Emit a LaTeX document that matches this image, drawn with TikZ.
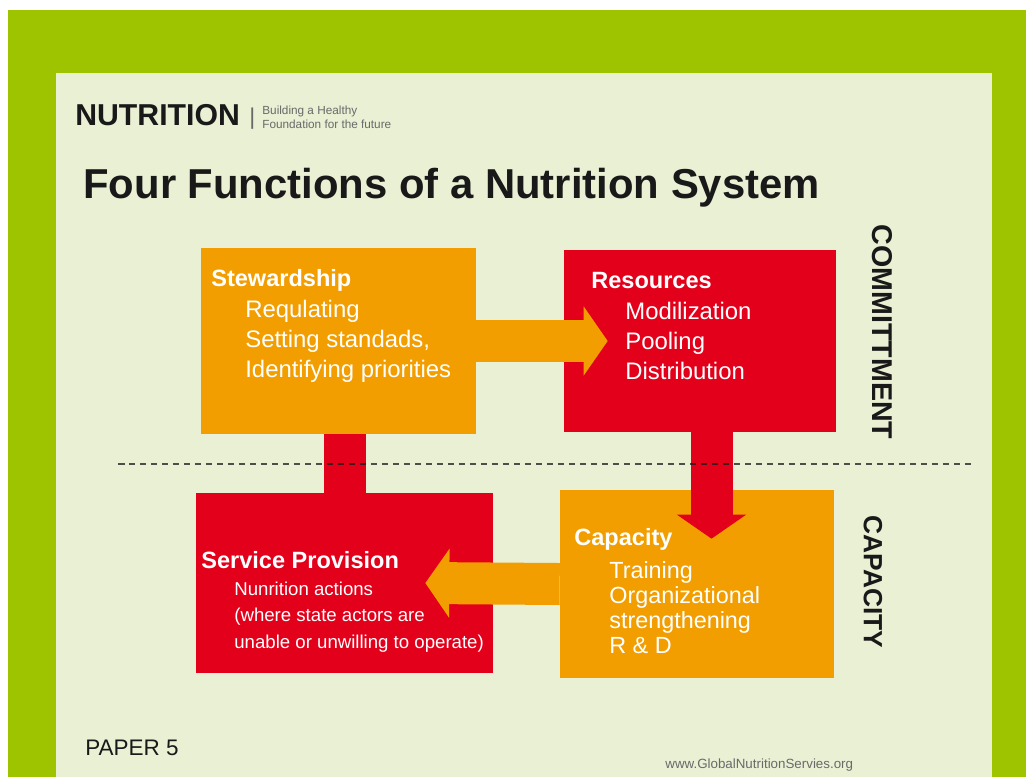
\documentclass[tikz,border=0pt]{standalone}
\usepackage{fontspec}
\setmainfont{Liberation Sans}
\usetikzlibrary{positioning,calc,arrows.meta}
\definecolor{leaf}{RGB}{158,196,0}
\definecolor{paper}{RGB}{233,240,212}
\definecolor{amber}{RGB}{242,158,0}
\definecolor{signal}{RGB}{227,0,27}
\definecolor{ink}{RGB}{25,25,25}
\definecolor{mist}{RGB}{105,105,105}
\tikzset{
  fn/.style={rectangle,inner sep=0pt,draw=none},
  fnhead/.style={anchor=base west,inner sep=0pt,text=white,font=\fontsize{13.4}{16}\selectfont\bfseries},
  fnitems/.style={anchor=base west,inner sep=0pt,text=white,align=left},
  flow/.style={line width=0.84cm,-{Triangle[width=1.36cm,length=0.48cm]}},
}
\begin{document}
\begin{tikzpicture}[x=0.02cm,y=-0.02cm]
    \useasboundingbox (0,0) rectangle (1026,777);
    \fill[white] (0,0) rectangle (1026,777);
    \fill[leaf] (8,10) rectangle (1026,777);
    \fill[paper] (56,73) rectangle (992,777);

    \node[anchor=base west,inner sep=0,text=ink,font=\fontsize{17.2}{20}\selectfont\bfseries] (brand) at (75,125) {NUTRITION} ;
    \node[anchor=base west,inner sep=0,text=mist,font=\fontsize{13}{15}\selectfont] (pipe) at (249,124) {|} ;
    \node[anchor=base west,inner sep=0,text=mist,align=left,font=\fontsize{6.7}{7.5}\selectfont] (motto) at (262,128) {Building a Healthy\\Foundation for the future} ;
    \node[anchor=base west,inner sep=0,text=ink,font=\fontsize{23.8}{28}\selectfont\bfseries] (title) at (83,198) {Four Functions of a Nutrition System} ;

    \node[fn,fill=amber,minimum width=5.5cm,minimum height=3.72cm] (stew) at (338.5,341) {} ;
    \node[fn,fill=signal,minimum width=5.44cm,minimum height=3.64cm] (res) at (700,341) {} ;
    \node[fn,fill=signal,minimum width=5.94cm,minimum height=3.6cm] (serv) at (344.5,583) {} ;
    \node[fn,fill=amber,minimum width=5.48cm,minimum height=3.76cm] (cap) at (697,584) {} ;

    \draw[flow,amber] (stew.east) -- ($(res.west)+(44,0)$) ;
    \draw[signal,line width=0.84cm] (stew.south -| serv.north) -- (serv.north) ;
    \draw[flow,signal] ($(res.south)+(11.5,0)$) -- ($(cap.north)+(14.5,49)$) ;
    \draw[flow,amber] (cap.west) -- ($(serv.east)+(-68,0)$) ;

    \node[fnhead] (stew_head) at (211,286) {Stewardship} ;
    \node[fnitems,font=\fontsize{13.6}{17}\selectfont] (stew_items) at (245,377) {Requlating\\Setting standads,\\Identifying priorities} ;
    \node[fnhead] (res_head) at (591,288) {Resources} ;
    \node[fnitems,font=\fontsize{13.6}{17}\selectfont] (res_items) at (625,379) {Modilization\\Pooling\\Distribution} ;
    \node[fnhead] (serv_head) at (201,568) {Service Provision} ;
    \node[fnitems,font=\fontsize{10.6}{15}\selectfont] (serv_items) at (234,648) {Nunrition actions\\(where state actors are\\unable or unwilling to operate)} ;
    \node[fnhead] (cap_head) at (574,545) {Capacity} ;
    \node[fnitems,font=\fontsize{13.3}{14.2}\selectfont] (cap_items) at (609,653) {Training\\Organizational\\strengthening\\R \& D} ;

    \draw[ink,opacity=0.75,line width=0.03cm,dash pattern=on 0.13cm off 0.09cm] (118,464) -- (975,464) ;

    \node[rotate=-90,inner sep=0,text=ink,font=\fontsize{16.3}{18}\selectfont\bfseries] (commit) at (882,332) {COMMITTMENT} ;
    \node[rotate=-90,inner sep=0,text=ink,font=\fontsize{15}{18}\selectfont\bfseries] (capacity) at (873,582) {CAPACITY} ;

    \node[anchor=base west,inner sep=0,text=ink,font=\fontsize{12.8}{15}\selectfont] (paper) at (85,755) {PAPER 5} ;
    \node[anchor=base west,inner sep=0,text=mist,font=\fontsize{7.6}{9}\selectfont] (site) at (665,768) {www.GlobalNutritionServies.org} ;
\end{tikzpicture}
\end{document}
